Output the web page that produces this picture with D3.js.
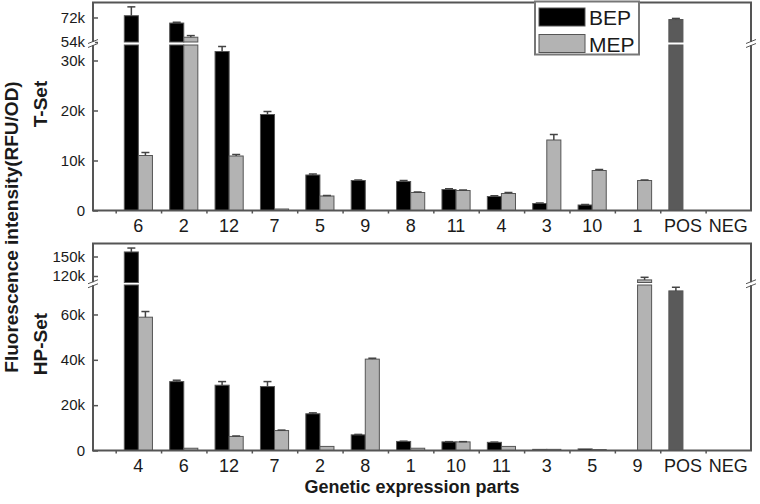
<!DOCTYPE html>
<html>
<head>
<meta charset="utf-8">
<script src="https://cdn.jsdelivr.net/npm/d3@7"></script>
<style>
  body { margin: 0; background: #fff; }
  text { font-family: "Liberation Sans", Arial, sans-serif; fill: #1a1a1a; }
</style>
</head>
<body>
<svg width="760" height="504"></svg>
<script>
// T-Set data (upper panel)
var tCats = ["6", "2", "12", "7", "5", "9", "8", "11", "4", "3", "10", "1"];
var tBEP = [73300, 67900, 31800, 19200, 7100, 6000, 5800, 4200, 2800, 1400, 1100, 0];
var tBEPerr = [6500, 600, 1000, 600, 200, 100, 200, 150, 150, 100, 100, 0];
var tMEP = [11000, 57500, 10900, 300, 2900, 0, 3600, 4000, 3400, 14100, 8000, 6000];
var tMEPerr = [600, 1200, 300, 0, 100, 0, 100, 100, 200, 1100, 200, 100];
var tCtrl = [70500, 0];
var tCtrlErr = [800, 0];
var tTicksLow = [0, 10000, 20000, 30000];
var tTicksUp = [54000, 72000];

// HP-Set data (lower panel)
var hCats = ["4", "6", "12", "7", "2", "8", "1", "10", "11", "3", "5", "9"];
var hBEP = [157000, 30400, 28800, 28200, 16200, 6900, 4000, 3800, 3600, 500, 700, 0];
var hBEPerr = [6000, 600, 1600, 2200, 400, 200, 100, 100, 100, 0, 0, 0];
var hMEP = [58800, 1000, 6200, 8800, 1800, 40300, 1000, 3800, 1800, 500, 400, 114000];
var hMEPerr = [2500, 0, 200, 200, 0, 400, 0, 100, 0, 0, 0, 4000];
var hCtrl = [70400, 0];
var hCtrlErr = [1600, 0];
var hTicksLow = [0, 20000, 40000, 60000];
var hTicksUp = [120000, 150000];

var ctrlCats = ["POS", "NEG"];
var seriesNames = ["BEP", "MEP"];

var svg = d3.select("svg");

var x = d3.scaleLinear().domain([0, 14.5]).range([93, 751]);
var bw = (x(1) - x(0)) * 0.31;

var fmt = function(d) { return d == 0 ? "0" : (d / 1000) + "k"; };

var draw_panel = function(cfg) {
  var g = svg.append("g");
  var low = d3.scaleLinear().domain(cfg.lowDom).range(cfg.lowRange);
  var up = d3.scaleLinear().domain(cfg.upDom).range(cfg.upRange);
  var y = function(v) { return v <= cfg.lowDom[1] ? low(v) : up(v); };
  var cats = cfg.cats.concat(ctrlCats);

  // bars: split in two pieces when they cross the break
  var bar = function(xpos, v, fill) {
    if (v <= 0) return;
    var top = Math.min(v, cfg.lowDom[1]);
    g.append("rect")
      .attr("x", xpos).attr("width", bw)
      .attr("y", low(top)).attr("height", low(0) - low(top))
      .attr("fill", fill).attr("stroke", "#555").attr("stroke-width", 1);
    if (v > cfg.upDom[0]) {
      g.append("rect")
        .attr("x", xpos).attr("width", bw)
        .attr("y", up(v)).attr("height", up(cfg.upDom[0]) - up(v))
        .attr("fill", fill).attr("stroke", "#555").attr("stroke-width", 1);
    }
  };
  var err = function(xpos, v, e) {
    if (v <= 0 || e <= 0) return;
    var cx = xpos + bw / 2;
    g.append("line").attr("x1", cx).attr("x2", cx)
      .attr("y1", y(v)).attr("y2", y(v + e))
      .attr("stroke", "#444").attr("stroke-width", 1.5);
    g.append("line").attr("x1", cx - 4).attr("x2", cx + 4)
      .attr("y1", y(v + e)).attr("y2", y(v + e))
      .attr("stroke", "#444").attr("stroke-width", 1.5);
  };

  cfg.bep.forEach(function(v, i) {
    bar(x(i + 1) - bw, v, "#000");
    err(x(i + 1) - bw, v, cfg.bepErr[i]);
  });
  cfg.mep.forEach(function(v, i) {
    bar(x(i + 1), v, "#b3b3b3");
    err(x(i + 1), v, cfg.mepErr[i]);
  });
  cfg.ctrl.forEach(function(v, i) {
    var p = cfg.bep.length + i + 1;
    bar(x(p) - bw, v, "#5a5a5a");
    err(x(p) - bw, v, cfg.ctrlErr[i]);
  });

  // frame
  g.append("rect")
    .attr("x", x(0)).attr("y", cfg.upRange[1])
    .attr("width", x(14.5) - x(0)).attr("height", cfg.lowRange[0] - cfg.upRange[1])
    .attr("fill", "none").attr("stroke", "#555").attr("stroke-width", 2);

  // y axes (two segments)
  [[low, cfg.ticksLow], [up, cfg.ticksUp]].forEach(function(p) {
    var ax = g.append("g")
      .attr("transform", "translate(" + x(0) + ",0)")
      .call(d3.axisLeft(p[0]).tickValues(p[1]).tickFormat(fmt).tickSizeInner(-5).tickSizeOuter(0).tickPadding(8));
    ax.select(".domain").remove();
    ax.selectAll("line").attr("stroke", "#555").attr("stroke-width", 1.5);
    ax.selectAll("text").style("font-size", "15px").attr("fill", "#2a2a2a");
  });

  // x axis: minor ticks between categories + category labels
  var xa = g.append("g")
    .attr("transform", "translate(0," + cfg.lowRange[0] + ")")
    .call(d3.axisBottom(x).tickValues(d3.range(0.5, 14, 1)).tickFormat("").tickSize(3));
  xa.select(".domain").remove();
  xa.selectAll("line").attr("stroke", "#555").attr("stroke-width", 1.5);

  g.selectAll(".xl")
    .data(cats)
    .enter().append("text")
    .attr("x", function(d, i) { return x(i + 1); })
    .attr("y", cfg.lowRange[0] + 21)
    .attr("text-anchor", "middle")
    .style("font-size", "18px")
    .text(function(d) { return d; });

  // break marks on both vertical axes
  var by = (cfg.lowRange[1] + cfg.upRange[0]) / 2;
  [x(0), x(14.5)].forEach(function(bx) {
    g.append("rect").attr("x", bx - 2).attr("y", by - 1.5).attr("width", 4).attr("height", 3).attr("fill", "#fff");
    [-2, 2].forEach(function(o) {
      g.append("line")
        .attr("x1", bx - 5).attr("y1", by + o + 2)
        .attr("x2", bx + 5).attr("y2", by + o - 2)
        .attr("stroke", "#555").attr("stroke-width", 1);
    });
  });

  // panel label
  g.append("text")
    .attr("transform", "translate(47," + cfg.labelY + ") rotate(-90)")
    .attr("text-anchor", "middle")
    .style("font-size", "19px").style("font-weight", "bold")
    .text(cfg.label);

  return g;
};

draw_panel({
  cats: tCats, bep: tBEP, bepErr: tBEPerr, mep: tMEP, mepErr: tMEPerr,
  ctrl: tCtrl, ctrlErr: tCtrlErr,
  lowDom: [0, 33100], lowRange: [210.5, 45],
  upDom: [54000, 83000], upRange: [42, 2.5],
  ticksLow: tTicksLow, ticksUp: tTicksUp,
  label: "T-Set", labelY: 104
});

draw_panel({
  cats: hCats, bep: hBEP, bepErr: hBEPerr, mep: hMEP, mepErr: hMEPerr,
  ctrl: hCtrl, ctrlErr: hCtrlErr,
  lowDom: [0, 73000], lowRange: [450.5, 285],
  upDom: [110000, 170000], upRange: [282.5, 243.5],
  ticksLow: hTicksLow, ticksUp: hTicksUp,
  label: "HP-Set", labelY: 344
});

// legend
var lg = svg.append("g");
lg.append("rect").attr("x", 535).attr("y", 1.5).attr("width", 104).attr("height", 53)
  .attr("fill", "#fff").attr("stroke", "#777").attr("stroke-width", 2);
lg.selectAll(".sw")
  .data(seriesNames)
  .enter().append("rect")
  .attr("x", 539).attr("y", function(d, i) { return 8 + i * 26.5; })
  .attr("width", 46).attr("height", 18)
  .attr("fill", function(d, i) { return i == 0 ? "#000" : "#b3b3b3"; })
  .attr("stroke", "#555").attr("stroke-width", 1);
lg.selectAll(".lt")
  .data(seriesNames)
  .enter().append("text")
  .attr("x", 589).attr("y", function(d, i) { return 25 + i * 26.5; })
  .style("font-size", "21px")
  .text(function(d) { return d; });

// axis titles
svg.append("text")
  .attr("transform", "translate(18,227) rotate(-90)")
  .attr("text-anchor", "middle")
  .style("font-size", "19px").style("font-weight", "bold")
  .text("Fluorescence intensity(RFU/OD)");

svg.append("text")
  .attr("x", 412).attr("y", 493)
  .attr("text-anchor", "middle")
  .style("font-size", "18px").style("font-weight", "bold")
  .text("Genetic expression parts");
</script>
</body>
</html>
